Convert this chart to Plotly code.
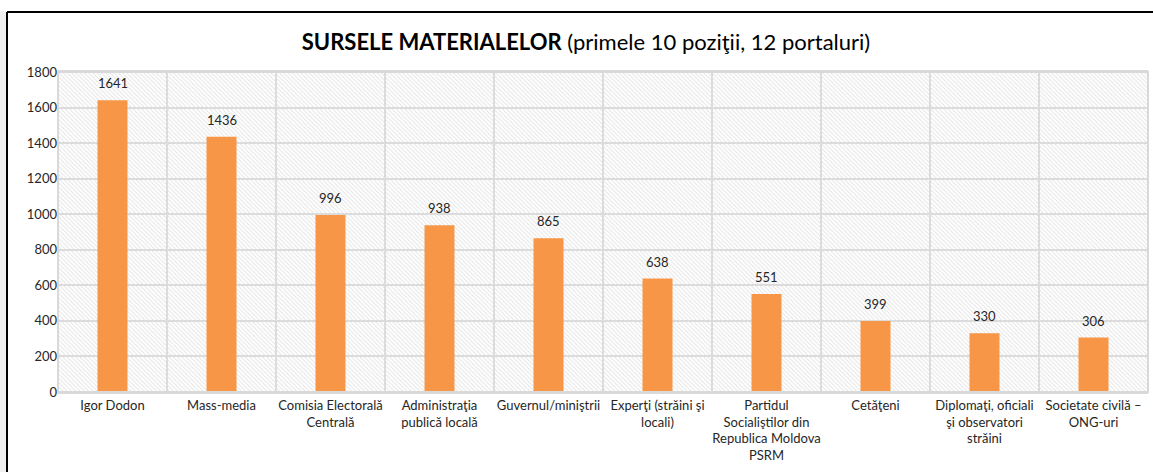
import plotly.graph_objects as go

categories = [
    "Igor Dodon",
    "Mass-media",
    "Comisia Electorală<br>Centrală",
    "Administraţia<br>publică locală",
    "Guvernul/miniştrii",
    "Experţi (străini şi<br>locali)",
    "Partidul<br>Socialiştilor din<br>Republica Moldova<br>PSRM",
    "Cetăţeni",
    "Diplomaţi, oficiali<br>şi observatori<br>străini",
    "Societate civilă –<br>ONG-uri",
]
values = [1641, 1436, 996, 938, 865, 638, 551, 399, 330, 306]
y_max = 1800
y_ticks = [0, 200, 400, 600, 800, 1000, 1200, 1400, 1600, 1800]

FONT = "Lato, 'Open Sans', sans-serif"
W, H = 1153, 472
ML, MR, MT, MB = 58, 5, 72, 80
pw, ph = W - ML - MR, H - MT - MB

def px_x(p):
    return (p - ML) / pw

def px_y(p):
    return (H - MB - p) / ph

fig = go.Figure()

# hatched plot-area background
fig.add_trace(go.Bar(
    x=categories, y=[y_max] * len(categories), width=1,
    marker=dict(color="rgba(0,0,0,0)", line=dict(width=0),
                pattern=dict(shape="\\", fgcolor="#e2e2e2", bgcolor="rgba(0,0,0,0)",
                             size=3, solidity=0.3, fillmode="replace")),
    hoverinfo="skip", showlegend=False,
))

fig.add_trace(go.Bar(
    x=categories, y=values, width=0.275,
    marker=dict(color="#F79646", line=dict(width=0)),
    showlegend=False,
))

annotations = [
    dict(x=c, y=v, text=str(v), showarrow=False, xref="x", yref="y",
         yanchor="bottom", yshift=7,
         font=dict(family=FONT, size=13, color="#262626"))
    for c, v in zip(categories, values)
]

fig.update_layout(
    width=W, height=H,
    margin=dict(l=ML, r=MR, t=MT, b=MB, autoexpand=False),
    paper_bgcolor="white", plot_bgcolor="white",
    barmode="overlay",
    title=dict(
        text="<b>SURSELE MATERIALELOR</b> (primele 10 poziţii, 12 portaluri)",
        x=586 / W, xanchor="center", xref="container",
        y=1 - 42 / H, yanchor="middle", yref="container",
        font=dict(family=FONT, size=22, color="black"),
    ),
    font=dict(family=FONT, size=13, color="#262626"),
    xaxis=dict(
        tickson="boundaries", showgrid=True, gridcolor="#d9d9d9", gridwidth=2,
        ticks="", showline=True, linecolor="#d9d9d9", linewidth=2,
        tickangle=0, automargin=False,
        tickfont=dict(family=FONT, size=13, color="#262626"),
        mirror=True,
    ),
    yaxis=dict(
        range=[0, y_max], tickvals=y_ticks, showgrid=True, gridcolor="#d9d9d9", gridwidth=2,
        zeroline=False, ticks="", showline=False, automargin=False,
        tickfont=dict(family=FONT, size=13, color="#262626"),
    ),
    annotations=annotations,
    shapes=[
        dict(type="rect", xref="paper", yref="paper",
             x0=px_x(0), x1=px_x(6), y0=px_y(H + 5), y1=px_y(11),
             fillcolor="#f0f0f0", line=dict(width=0), layer="above"),
        dict(type="line", xref="paper", yref="paper",
             x0=px_x(7), x1=px_x(W + 5), y0=px_y(12), y1=px_y(12),
             line=dict(color="black", width=2)),
        dict(type="line", xref="paper", yref="paper",
             x0=px_x(7), x1=px_x(7), y0=px_y(12), y1=px_y(H + 5),
             line=dict(color="black", width=2)),
        dict(type="rect", xref="paper", yref="paper", x0=0, x1=1, y0=0, y1=1,
             line=dict(color="#d9d9d9", width=2)),
    ],
)

fig.write_html(
    "out.html",
    config={"displayModeBar": False},
    post_script="document.body.style.margin='0';document.body.style.overflow='hidden';",
)
